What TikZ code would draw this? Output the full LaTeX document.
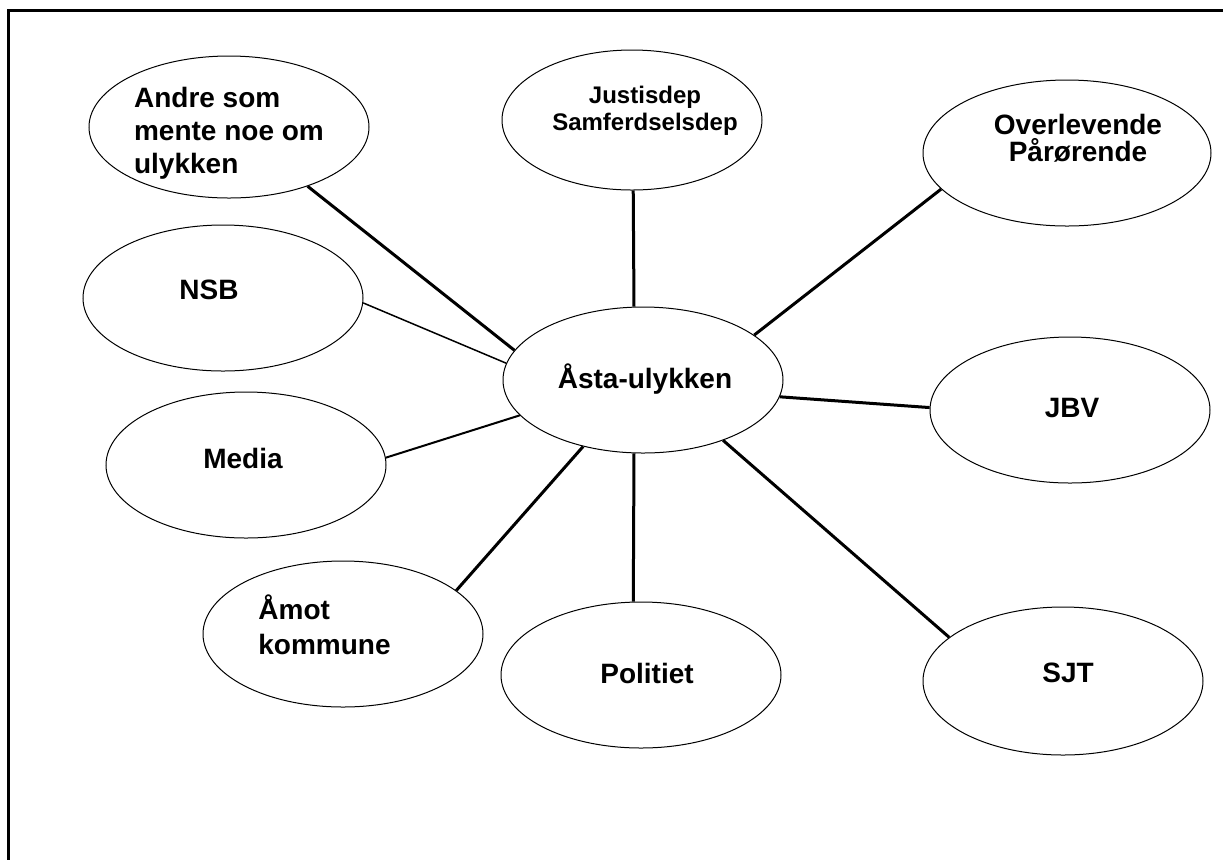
\documentclass[tikz,border=0pt]{standalone}
\usepackage{fontspec}
\setmainfont{Liberation Sans}
\usetikzlibrary{shapes,positioning}

\begin{document}
\begin{tikzpicture}[x=0.5pt, y=-0.5pt,
    bubble/.style={draw, ellipse, line width=0.5pt, minimum width=140pt, minimum height=73pt},
    lbl/.style={font=\fontsize{14}{16.5}\selectfont\bfseries, inner sep=0pt, align=center},
    link/.style={line width=1.5pt}]
    \clip (0,0) rectangle (1223,859);
    \draw [line width=1.5pt] (8,900) -- (8,10) -- (1300,10);

    % the ellipses
    \node [bubble] (asta) at (643,380) {};
    \node [bubble, minimum height=71pt] (andre) at (229,127) {};
    \node [bubble, minimum width=130pt, minimum height=70pt] (justis) at (632,120) {};
    \node [bubble, minimum width=144pt] (overl) at (1067,153) {};
    \node [bubble] (nsb) at (223,298) {};
    \node [bubble] (media) at (246,465) {};
    \node [bubble] (jbv) at (1070,410) {};
    \node [bubble] (amot) at (343,634) {};
    \node [bubble] (politi) at (641,675) {};
    \node [bubble, minimum height=74pt] (sjt) at (1063,681) {};

    % the texts
    \node [lbl] (asta-t) at (645,379) {Åsta-ulykken};
    \node [lbl, align=left] (andre-t) at (229,133) {Andre som\\mente noe om\\ulykken};
    \node [lbl, font=\fontsize{12}{13.5}\selectfont\bfseries] (justis-t) at (645,111) {Justisdep\\Samferdselsdep};
    \node [lbl, font=\fontsize{14}{13.5}\selectfont\bfseries] (overl-t) at (1078,138) {Overlevende\\Pårørende};
    \node [lbl] (nsb-t) at (209,290) {NSB};
    \node [lbl] (media-t) at (243,458) {Media};
    \node [lbl] (jbv-t) at (1072,408) {JBV};
    \node [lbl, align=left, anchor=west, font=\fontsize{14}{17.5}\selectfont\bfseries] (amot-t) at (258,625) {Åmot\\kommune};
    \node [lbl] (politi-t) at (647,673) {Politiet};
    \node [lbl] (sjt-t) at (1068,673) {SJT};

    % the links
    \draw [link] (asta.167) -- (andre.-37);
    \draw [line width=0.75pt] (asta.173) -- (nsb.-2);
    \draw [line width=1pt] (asta.196) -- (media.3);
    \draw [link] (asta.228) -- (amot.21);
    \draw [link] (asta.263) -- (politi.96);
    \draw [link] (asta.-37) -- (sjt.159);
    \draw [link] (asta.-7) -- (jbv.179);
    \draw [link] (asta.22) -- (overl.196);
    \draw [link] (asta.97) -- (justis.-89);
\end{tikzpicture}
\end{document}
